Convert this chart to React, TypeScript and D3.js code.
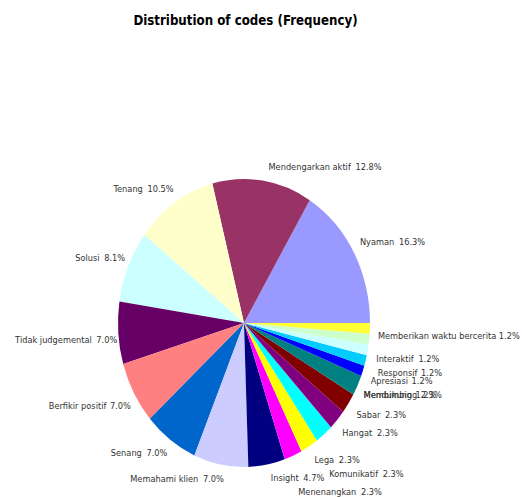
import React from "react";
import * as d3 from "d3";

const categories = [
  "Nyaman",
  "Mendengarkan aktif",
  "Tenang",
  "Solusi",
  "Tidak judgemental",
  "Berfikir positif",
  "Senang",
  "Memahami klien",
  "Insight",
  "Menenangkan",
  "Lega",
  "Komunikatif",
  "Hangat",
  "Sabar",
  "Membimbing",
  "Mendukung",
  "Apresiasi",
  "Responsif",
  "Interaktif",
  "Memberikan waktu bercerita",
];

const values = [16.3, 12.8, 10.5, 8.1, 7.0, 7.0, 7.0, 7.0, 4.7, 2.3, 2.3, 2.3, 2.3, 2.3, 2.3, 1.2, 1.2, 1.2, 1.2, 1.2];

const colors = [
  "#9999FF", "#993366", "#FFFFCC", "#CCFFFF", "#660066", "#FF8080", "#0066CC", "#CCCCFF",
  "#000080", "#FF00FF", "#FFFF00", "#00FFFF", "#800080", "#800000", "#008080", "#0000FF",
  "#00CCFF", "#CCFFFF", "#CCFFCC", "#FFFF33",
];

// label nudges (dx, dy) relative to the default outside-end placement
const labelNudges: [number, number][] = [
  [2, -4.5], [2, -7.5], [3, -7.5], [1, -2.5], [3, 0], [1, 5.5], [1, 6.5], [7, 7.5],
  [0, 6.5], [1, 29.5], [1, 6.5], [1, 32.5], [1, 6.5], [4, 4.5], [2, 2.5], [-3, 17.5],
  [1, 13.5], [6, 16.5], [3, 12.5], [4, 0.5],
];

const pctGap = [2, 2, 2, 2, 2, 1, 2, 2, 2, 2, 2, 2, 2, 2, 1, 1, 1, 1, 2, 0];

const title = "Distribution of codes (Frequency)";

const W = 522;
const H = 497;
const cx = 244;
const cy = 323;
const r = 126;
const stretch = 144 / 126;

export default function App() {
  const pie = d3
    .pie<number>()
    .sort(null)
    .value((d) => d)
    .startAngle(Math.PI / 2)
    .endAngle(Math.PI / 2 - 2 * Math.PI);
  const arcs = pie(values);
  const arc = d3.arc<d3.PieArcDatum<number>>().innerRadius(0).outerRadius(r);
  const font = "'DejaVu Sans', Verdana, sans-serif";

  return (
    <svg
      width={W}
      height={H}
      style={{ position: "absolute", left: 0, top: 0, background: "#fff" }}
    >
      <rect x={0} y={0} width={W} height={H} fill="#fff" />
      <text
        transform={`translate(245.5,25) scale(1,${stretch})`}
        textAnchor="middle"
        fontFamily={font}
        fontWeight="bold"
        fontSize={11.85}
        fill="#000"
      >
        {title}
      </text>
      <g transform={`translate(${cx},${cy}) scale(1,${stretch})`}>
        {arcs.map((a, i) => (
          <path key={i} d={arc(a) || ""} fill={colors[i]} />
        ))}
      </g>
      {arcs.map((a, i) => {
        const mid = (a.startAngle + a.endAngle) / 2;
        const px = cx + r * Math.sin(mid);
        const py = cy - r * stretch * Math.cos(mid);
        const right = Math.sin(mid) >= 0;
        const top = Math.cos(mid) > 0;
        const x = (right ? px + 4 : px - 4) + labelNudges[i][0];
        const y = (top ? py - 3 : py + 10) + labelNudges[i][1];
        return (
          <text
            key={i}
            transform={`translate(${x},${y}) scale(1,${stretch})`}
            textAnchor={right ? "start" : "end"}
            fontFamily={font}
            fontSize={8.25}
            fill="#333"
          >
            {categories[i]}
            <tspan dx={pctGap[i]}>{` ${values[i].toFixed(1)}%`}</tspan>
          </text>
        );
      })}
    </svg>
  );
}
